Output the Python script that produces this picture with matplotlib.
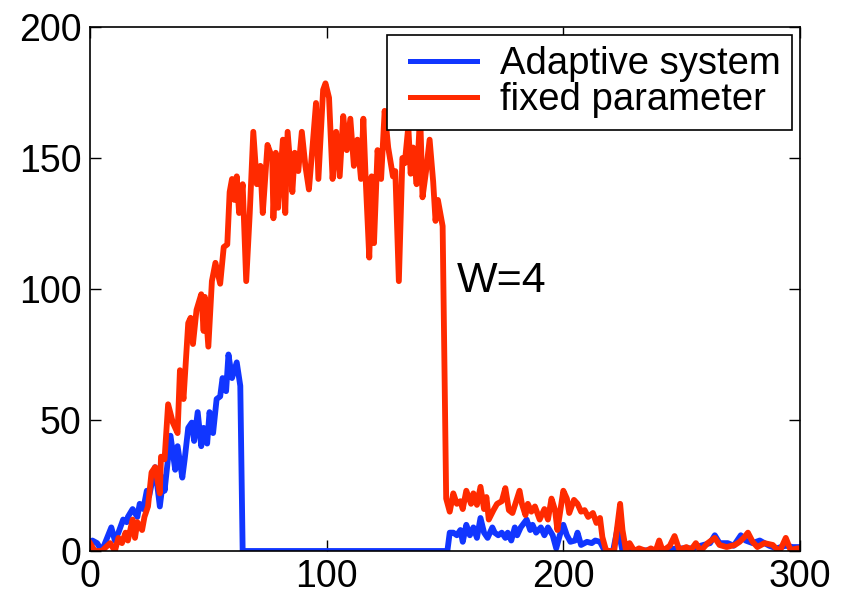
import matplotlib
matplotlib.use("Agg")
import matplotlib.pyplot as plt
from matplotlib.legend_handler import HandlerLine2D

plt.rcParams['font.family'] = ['Liberation Sans', 'DejaVu Sans']

# Fixed parameter (red) series
red_x = [0, 2, 5, 8.5, 10.5, 12, 13.5, 15, 16, 18, 19, 20, 22, 23, 24.5, 26, 27.5, 29.5, 30, 31.5,
         33, 35, 37, 38, 39.5, 41.5, 42.5, 43.5, 45, 47, 48, 48.5, 50, 51.5, 53, 55, 56.5, 58, 59, 60,
         61, 62, 63, 64.5, 66, 67.5, 69, 70.5, 72, 73, 75, 77, 77.5, 78.5, 79.5, 81.5, 82.5, 83.5, 85.5, 86.5,
         88, 89.5, 91, 92.5, 94, 95.5, 96.5, 98.5, 99.5, 101, 102.5, 104, 105.5, 107, 108.5, 110, 111.5, 113, 114.5, 115.5,
         116.5, 118, 119, 120, 121.5, 123, 124.5, 126, 128, 129, 130.5, 132, 133, 134.5, 135.5, 136.5, 138, 139.5, 140.5, 142,
         143.5, 145, 146, 147, 149, 150.5, 152, 153.5, 155, 156.5, 157.5, 159, 161, 162, 163.5, 165, 166.5, 167.5, 168.5, 170.5,
         172, 174, 175.5, 177, 178.5, 180, 181.5, 182.5, 184, 185, 186.5, 188, 190, 192, 193.5, 195, 196.5, 197.5, 200, 201.5,
         202.5, 204.5, 206, 207.5, 209, 210.5, 212.5, 214, 215.5, 216.5, 218, 219, 221.5, 224, 225, 226.5, 228, 230, 232, 235,
         237, 239, 240.5, 242, 245, 247, 249, 252, 254, 256, 258, 261, 264, 266, 269, 272.5, 274.5, 276.5, 278, 280,
         282, 285, 288.5, 290.5, 292, 294, 296, 299, 300]
red_y = [3, 0, 0, 3, 0, 5, 3, 7, 4, 12, 5, 11, 8, 13, 17, 30, 32, 22, 36, 35,
         56, 49, 45, 69, 58, 87, 89, 79, 92, 98, 84, 97, 78, 103, 110, 102, 116, 117, 137, 142,
         134, 143, 129, 140, 103, 129, 160, 140, 147, 129, 155, 150, 127, 152, 131, 157, 129, 160, 137, 152,
         145, 160, 147, 138, 154, 171, 142, 176, 178.5, 173, 142, 160, 143, 166, 153, 165, 147, 157, 142, 165,
         141.6, 112, 143, 117.5, 153, 142, 168, 154, 143, 145, 103, 150, 148, 162, 144, 154, 140, 167, 135, 145,
         157, 141, 126, 134, 124, 20, 15, 22, 18, 19, 16, 23, 18, 22, 17.6, 24.5, 16, 20.6, 12, 15.6,
         18, 19, 24, 15.6, 14.5, 18.7, 23, 18, 13.7, 18, 15, 17, 12, 16, 12, 20, 15.6, 8, 23, 20,
         14.5, 19.5, 18, 15, 15.6, 13, 14.5, 10.7, 12.6, 5.3, 0.4, 0, 0, 18, 8, 0, 3, 0, 1, 0,
         1, 0, 4, 0, 2, 5.7, 0.4, 1.5, 0.5, 3, 0, 3, 5, 2.3, 1.5, 2.3, 3.5, 5.3, 7, 3.5,
         1.5, 3, 2.3, 0.4, 1, 5, 0.4, 1, 1]

# Adaptive system (blue) series
blue_x = [0, 1, 3, 5, 9, 10.5, 12, 14, 15.5, 16, 18, 20, 21, 22.5, 24, 25, 27.5, 29.5, 31, 31.5,
          34, 36, 37, 39, 40, 41.5, 43, 44, 45.5, 47, 48, 49.5, 50.5, 52, 53.5, 55, 56, 57.5, 58.5, 60,
          62, 63.5, 64.5, 100, 151, 152, 153.5, 155, 156.5, 157.5, 159, 160.5, 162, 163.5, 165, 166.5, 168, 170, 171, 172.5,
          174, 175.5, 176.5, 178, 179.5, 180.5, 182, 184.5, 186, 187, 188.5, 190.5, 192, 193.5, 195.5, 197, 198.5, 200, 201.5, 203,
          205, 206, 207.5, 210, 212, 213.5, 215.5, 217.5, 221, 223, 225, 230, 240, 250, 255, 258, 262, 264,
          266, 269.5, 272, 275, 277, 280, 283, 287, 290, 294, 297, 300]
blue_y = [2, 4, 3, 0, 9, 4, 7, 12, 11, 13, 16, 13, 18, 16, 23, 21, 32, 17, 28, 23,
          44, 31, 40, 28, 35, 47, 49, 42, 53, 40, 47, 41, 53, 45, 58, 59, 66, 61, 75, 66,
          72, 63, 0, 0, 0, 7, 7, 6, 8, 3.5, 10, 6, 9, 5, 12.6, 7, 5, 9, 7, 6,
          7, 5, 7, 4, 9, 6, 9, 12, 8, 10, 7, 9, 6, 9, 6, 1, 6, 10, 6, 3.5,
          4, 7, 2.3, 3.5, 3, 4, 3.5, 0, 0, 9, 0, 0, 0.5, 1, 1, 2, 3, 6,
          3, 3, 2, 6, 4, 3, 4, 2, 1, 2, 1.5, 1.5]

labels = ["Adaptive system", "fixed parameter"]
annotation = "W=4"
x_ticks = [0, 100, 200, 300]
y_ticks = [0, 50, 100, 150, 200]

fig = plt.figure(figsize=(8.46, 5.91), dpi=100)
ax = fig.add_axes([0.1064, 0.0677, 0.8392, 0.8866])

l1, = ax.plot(blue_x, blue_y, color='#1136ff', lw=4.2, label=labels[0])
l2, = ax.plot(red_x, red_y, color='#ff2a00', lw=4.2, label=labels[1])

ax.set_xlim(0, 300)
ax.set_ylim(0, 200)
ax.set_xticks(x_ticks)
ax.set_yticks(y_ticks)
ax.tick_params(direction='in', top=True, right=True, length=8, width=1, labelsize=27, pad=6)
for s in ax.spines.values():
    s.set_linewidth(1.2)

ax.text(155, 99, annotation, fontsize=31, va='baseline', ha='left')

hm = {l1: HandlerLine2D(xpad=0.3), l2: HandlerLine2D(xpad=0.3)}
leg = ax.legend(loc='upper right', fontsize=27.5, frameon=True, fancybox=False, framealpha=1,
                edgecolor='black', handlelength=2.05, handletextpad=0.6, labelspacing=0.0,
                borderpad=0.3, borderaxespad=0.2, handler_map=hm)
leg.get_frame().set_linewidth(1.2)
for h in leg.get_lines():
    h.set_linewidth(3.6)

fig.savefig('out.png', dpi=100)
